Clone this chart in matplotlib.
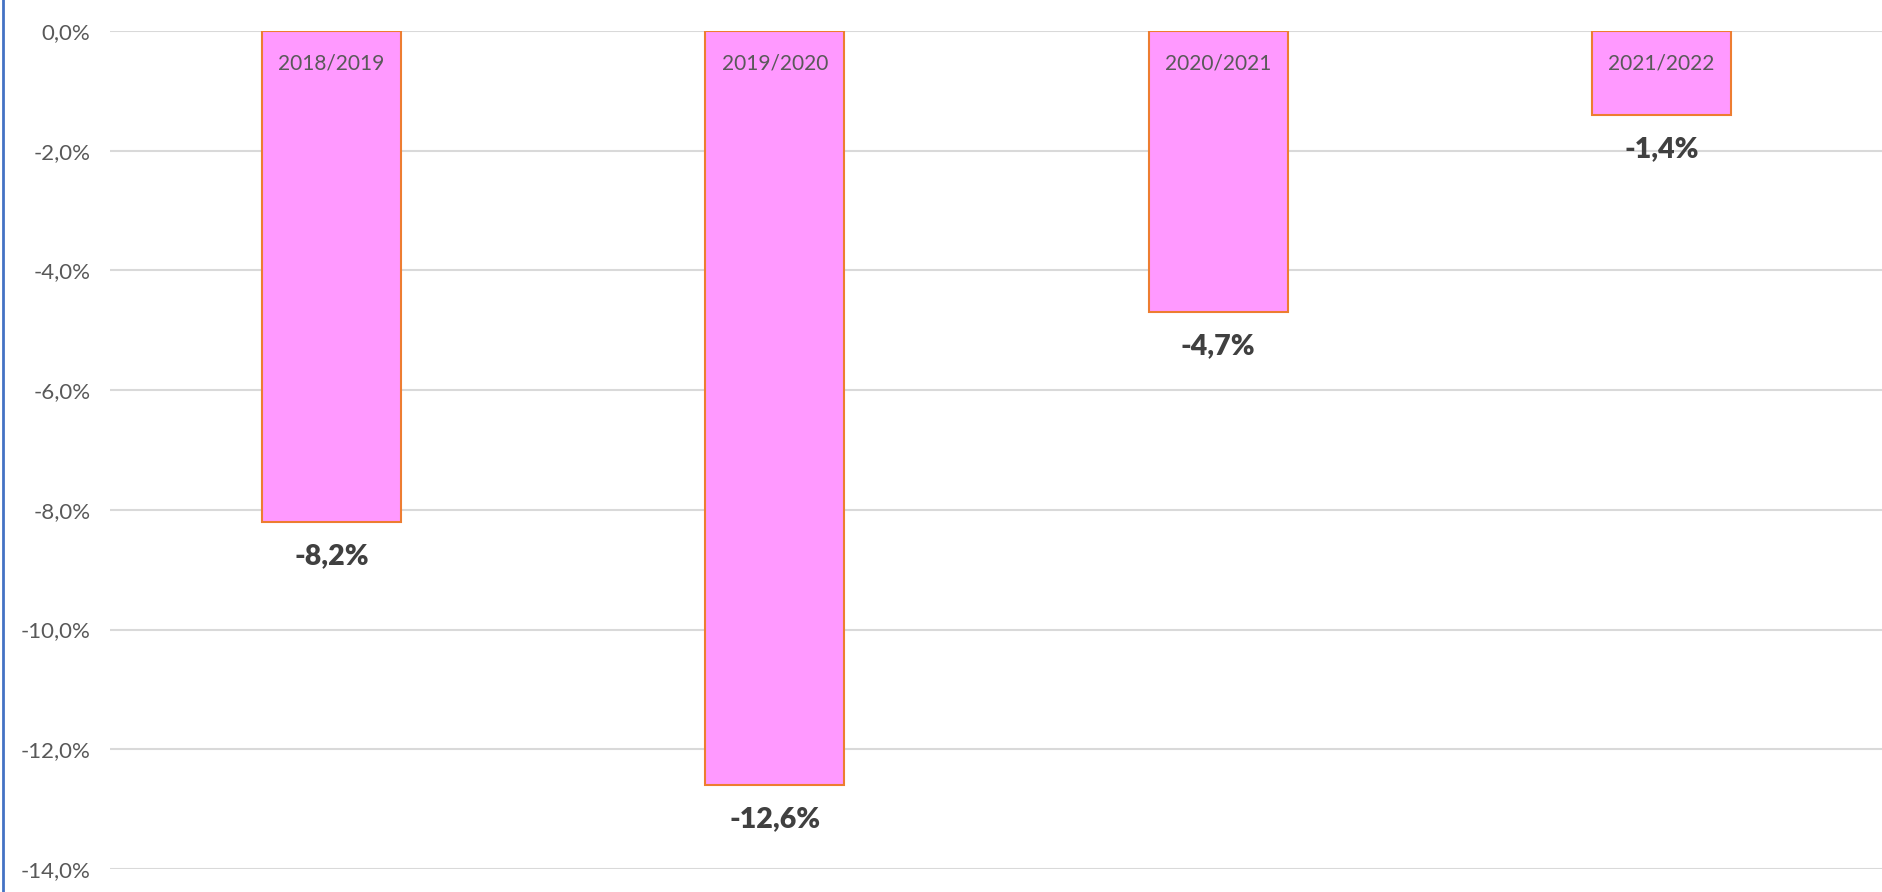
import matplotlib.pyplot as plt
from matplotlib.lines import Line2D

# data
seasons = ['2018/2019', '2019/2020', '2020/2021', '2021/2022']
changes = [-8.2, -12.6, -4.7, -1.4]
yticks = [0, -2, -4, -6, -8, -10, -12, -14]

plt.rcParams['font.family'] = ['Lato', 'DejaVu Sans']

fig = plt.figure(figsize=(18.83, 8.92), dpi=100)
ax = fig.add_axes([110 / 1883, 23 / 892, 1773 / 1883, 838 / 892])

x = range(len(seasons))
bars = ax.bar(x, changes, width=0.314, color='#FF99FF', edgecolor='#ED7D31',
              linewidth=1.5, zorder=3)

ax.set_xlim(-0.5, len(seasons) - 0.5)
ax.set_ylim(-14, 0)
ax.set_yticks(yticks)
ax.set_yticklabels([f'{v:.1f}%'.replace('.', ',') for v in yticks],
                   fontsize=16, color='#595959')
ax.set_xticks([])
ax.tick_params(axis='y', length=0, pad=14)
ax.grid(axis='y', color='#D9D9D9', linewidth=1.5, zorder=0)
for s in ax.spines.values():
    s.set_visible(False)

for i, (name, v) in enumerate(zip(seasons, changes)):
    ax.annotate(name, (i, 0), xytext=(0, -33), textcoords='offset pixels',
                ha='center', va='center', fontsize=15, color='#595959', zorder=4)
    ax.annotate(f'{v:.1f}%'.replace('.', ','), (i, v), xytext=(0, -34),
                textcoords='offset pixels', ha='center', va='center',
                fontsize=20.5, fontweight='heavy', color='#404040', zorder=4)

# left border line
fig.add_artist(Line2D([3.5 / 1883, 3.5 / 1883], [0, 1], color='#4472C4', linewidth=2))

fig.savefig('out.png', dpi=100)
